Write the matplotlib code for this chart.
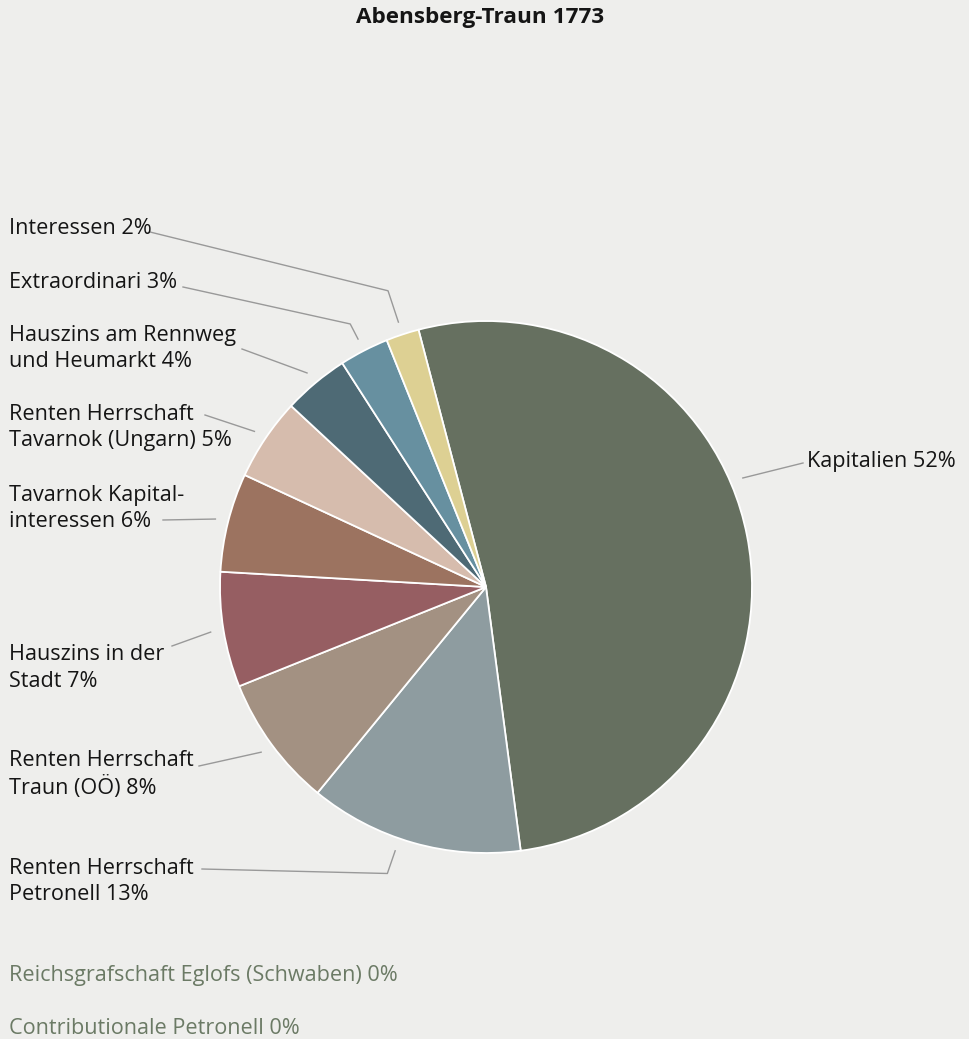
import matplotlib.pyplot as plt
import numpy as np

W, H = 969, 1039

categories = [
    "Kapitalien",
    "Renten Herrschaft\nPetronell",
    "Renten Herrschaft\nTraun (OÖ)",
    "Hauszins in der\nStadt",
    "Tavarnok Kapital-\ninteressen",
    "Renten Herrschaft\nTavarnok (Ungarn)",
    "Hauszins am Rennweg\nund Heumarkt",
    "Extraordinari",
    "Interessen",
]
shares = [52, 13, 8, 7, 6, 5, 4, 3, 2]
colors = ["#667060", "#8e9ca0", "#a39182", "#965e62", "#9c7360",
          "#d6bcad", "#4e6a75", "#6790a0", "#ddd093"]

zero_categories = ["Reichsgrafschaft Eglofs (Schwaben)", "Contributionale Petronell"]
zero_shares = [0, 0]

# layout in pixels: text x, first line y, connector end, elbow radius, angle override
label_layout = [
    (807, 462, (803, 463), None, 337.0),
    (9, 868, (202, 869), 303, 109.0),
    (9, 761, (199, 766), None, None),
    (9, 655, (172, 646), None, None),
    (9, 495, (163, 520), None, None),
    (9, 414, (205, 415), None, None),
    (9, 335, (242, 349), None, None),
    (9, 282, (183, 287), 296, None),
    (9, 228, (150, 232), 312, None),
]

CX, CY, R = 486, 587, 266
START = 255.3
BG = "#eeeeec"
FONT = ["Open Sans", "DejaVu Sans"]
FS = 15.6


def main():
    plt.rcParams['font.family'] = FONT
    fig = plt.figure(figsize=(W / 100, H / 100), dpi=100, facecolor=BG)
    ax = fig.add_axes([0, 0, 1, 1])
    ax.set_facecolor(BG)

    ax.pie(shares, colors=colors, startangle=START, counterclock=True,
           center=(CX, CY), radius=R,
           wedgeprops=dict(edgecolor="white", linewidth=1.3))
    ax.set_xlim(0, W)
    ax.set_ylim(H, 0)
    ax.axis("off")

    cum = 0
    for name, share, (tx, ty, end, elbow, ang) in zip(categories, shares, label_layout):
        mid = START + 360 * (cum + share / 2) / 100
        cum += share
        if ang is not None:
            mid = ang
        th = np.radians(mid)
        xs = [CX + 279 * np.cos(th)]
        ys = [CY + 279 * np.sin(th)]
        if elbow:
            xs.append(CX + elbow * np.cos(th))
            ys.append(CY + elbow * np.sin(th))
        xs.append(end[0])
        ys.append(end[1])
        ax.plot(xs, ys, color="#999999", lw=1)

        lines = f"{name} {share}%".split("\n")
        for k, line in enumerate(lines):
            ax.text(tx, ty + k * 26.5, line, fontsize=FS, color="#151515",
                    ha="left", va="center")

    for k, (name, share) in enumerate(zip(zero_categories, zero_shares)):
        ax.text(9, 975 + k * 53, f"{name} {share}%", fontsize=FS, color="#6b7a65",
                ha="left", va="center")

    ax.text(480, 18, "Abensberg-Traun 1773", fontsize=16.2, fontweight="bold",
            color="#151515", ha="center", va="center")

    fig.savefig("out.png", dpi=100, facecolor=BG)


if __name__ == "__main__":
    main()
